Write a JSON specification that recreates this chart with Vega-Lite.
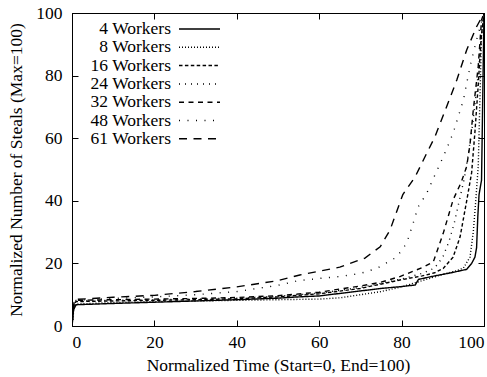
{
  "$schema": "https://vega.github.io/schema/vega-lite/v6.json",
  "width": 412,
  "height": 313,
  "autosize": "none",
  "padding": {"left": 72, "top": 13, "right": 3, "bottom": 51},
  "background": "white",
  "config": {
    "view": {"stroke": "black", "strokeWidth": 1},
    "font": "Liberation Serif",
    "axis": {
      "domainColor": "black", "tickColor": "black", "labelColor": "black", "titleColor": "black",
      "grid": false, "labelFont": "Liberation Serif", "titleFont": "Liberation Serif",
      "labelFontSize": 17.5, "titleFontSize": 17.5, "titleFontWeight": "normal", "tickSize": -6, "tickWidth": 1
    },
    "legend": {
      "labelFont": "Liberation Serif", "labelFontSize": 17.5, "labelColor": "black"
    }
  },
  "data": {
    "values": [
      {"s": "4 Workers", "t": 0, "v": 0}, {"s": "4 Workers", "t": 0.3, "v": 5}, {"s": "4 Workers", "t": 1, "v": 6.8}, {"s": "4 Workers", "t": 10, "v": 7.2}, {"s": "4 Workers", "t": 20, "v": 7.6}, {"s": "4 Workers", "t": 30, "v": 8}, {"s": "4 Workers", "t": 40, "v": 8.4}, {"s": "4 Workers", "t": 50, "v": 8.9}, {"s": "4 Workers", "t": 55, "v": 9.3}, {"s": "4 Workers", "t": 60, "v": 9.6}, {"s": "4 Workers", "t": 65, "v": 10.4}, {"s": "4 Workers", "t": 70, "v": 11.2}, {"s": "4 Workers", "t": 75, "v": 12}, {"s": "4 Workers", "t": 80, "v": 12.6}, {"s": "4 Workers", "t": 83.3, "v": 13.1}, {"s": "4 Workers", "t": 84.1, "v": 14.9}, {"s": "4 Workers", "t": 88, "v": 16}, {"s": "4 Workers", "t": 92, "v": 17}, {"s": "4 Workers", "t": 95.8, "v": 18.1}, {"s": "4 Workers", "t": 97, "v": 20}, {"s": "4 Workers", "t": 97.8, "v": 22}, {"s": "4 Workers", "t": 98.2, "v": 25}, {"s": "4 Workers", "t": 98.5, "v": 35}, {"s": "4 Workers", "t": 98.8, "v": 42}, {"s": "4 Workers", "t": 99.4, "v": 46.6}, {"s": "4 Workers", "t": 100, "v": 100},
      {"s": "8 Workers", "t": 0, "v": 0}, {"s": "8 Workers", "t": 0.5, "v": 6}, {"s": "8 Workers", "t": 1, "v": 7}, {"s": "8 Workers", "t": 10, "v": 7.5}, {"s": "8 Workers", "t": 20, "v": 7.8}, {"s": "8 Workers", "t": 30, "v": 8}, {"s": "8 Workers", "t": 40, "v": 8.2}, {"s": "8 Workers", "t": 50, "v": 8.4}, {"s": "8 Workers", "t": 60, "v": 8.6}, {"s": "8 Workers", "t": 65, "v": 9}, {"s": "8 Workers", "t": 70, "v": 10}, {"s": "8 Workers", "t": 75, "v": 11}, {"s": "8 Workers", "t": 80, "v": 12.5}, {"s": "8 Workers", "t": 85, "v": 14.5}, {"s": "8 Workers", "t": 90, "v": 16.5}, {"s": "8 Workers", "t": 93, "v": 17.5}, {"s": "8 Workers", "t": 95, "v": 18.5}, {"s": "8 Workers", "t": 96.6, "v": 22}, {"s": "8 Workers", "t": 97.4, "v": 30}, {"s": "8 Workers", "t": 98, "v": 40}, {"s": "8 Workers", "t": 98.6, "v": 51}, {"s": "8 Workers", "t": 99, "v": 72}, {"s": "8 Workers", "t": 99.4, "v": 93}, {"s": "8 Workers", "t": 100, "v": 100},
      {"s": "16 Workers", "t": 0, "v": 0}, {"s": "16 Workers", "t": 0.5, "v": 7}, {"s": "16 Workers", "t": 1, "v": 7.8}, {"s": "16 Workers", "t": 10, "v": 8}, {"s": "16 Workers", "t": 20, "v": 8.2}, {"s": "16 Workers", "t": 30, "v": 8.4}, {"s": "16 Workers", "t": 40, "v": 8.7}, {"s": "16 Workers", "t": 50, "v": 9.3}, {"s": "16 Workers", "t": 60, "v": 10.3}, {"s": "16 Workers", "t": 70, "v": 12}, {"s": "16 Workers", "t": 80, "v": 14.8}, {"s": "16 Workers", "t": 85, "v": 16}, {"s": "16 Workers", "t": 88, "v": 17}, {"s": "16 Workers", "t": 90.1, "v": 18.4}, {"s": "16 Workers", "t": 92.5, "v": 22}, {"s": "16 Workers", "t": 94.2, "v": 28.5}, {"s": "16 Workers", "t": 95.8, "v": 40}, {"s": "16 Workers", "t": 97, "v": 49}, {"s": "16 Workers", "t": 97.8, "v": 62}, {"s": "16 Workers", "t": 98.6, "v": 77}, {"s": "16 Workers", "t": 99.3, "v": 92}, {"s": "16 Workers", "t": 100, "v": 100},
      {"s": "24 Workers", "t": 0, "v": 0}, {"s": "24 Workers", "t": 0.5, "v": 7}, {"s": "24 Workers", "t": 1, "v": 8}, {"s": "24 Workers", "t": 10, "v": 8.2}, {"s": "24 Workers", "t": 20, "v": 8.4}, {"s": "24 Workers", "t": 30, "v": 8.6}, {"s": "24 Workers", "t": 40, "v": 8.9}, {"s": "24 Workers", "t": 50, "v": 9.5}, {"s": "24 Workers", "t": 60, "v": 10.5}, {"s": "24 Workers", "t": 70, "v": 12.3}, {"s": "24 Workers", "t": 80, "v": 15}, {"s": "24 Workers", "t": 85, "v": 16.8}, {"s": "24 Workers", "t": 88, "v": 18.5}, {"s": "24 Workers", "t": 90, "v": 22}, {"s": "24 Workers", "t": 91.5, "v": 27}, {"s": "24 Workers", "t": 92.8, "v": 33}, {"s": "24 Workers", "t": 94, "v": 40}, {"s": "24 Workers", "t": 95.2, "v": 47}, {"s": "24 Workers", "t": 96.2, "v": 55}, {"s": "24 Workers", "t": 97.2, "v": 64}, {"s": "24 Workers", "t": 98, "v": 73}, {"s": "24 Workers", "t": 98.7, "v": 82}, {"s": "24 Workers", "t": 99.4, "v": 92}, {"s": "24 Workers", "t": 100, "v": 100},
      {"s": "32 Workers", "t": 0, "v": 0}, {"s": "32 Workers", "t": 0.5, "v": 7.5}, {"s": "32 Workers", "t": 1, "v": 8.2}, {"s": "32 Workers", "t": 10, "v": 8.4}, {"s": "32 Workers", "t": 20, "v": 8.6}, {"s": "32 Workers", "t": 30, "v": 8.8}, {"s": "32 Workers", "t": 40, "v": 9.1}, {"s": "32 Workers", "t": 50, "v": 9.7}, {"s": "32 Workers", "t": 60, "v": 10.8}, {"s": "32 Workers", "t": 70, "v": 12.8}, {"s": "32 Workers", "t": 75, "v": 14}, {"s": "32 Workers", "t": 79.6, "v": 15.8}, {"s": "32 Workers", "t": 85.3, "v": 18.8}, {"s": "32 Workers", "t": 87.7, "v": 20.5}, {"s": "32 Workers", "t": 90.1, "v": 29.6}, {"s": "32 Workers", "t": 92.5, "v": 40.3}, {"s": "32 Workers", "t": 94.5, "v": 46}, {"s": "32 Workers", "t": 95.8, "v": 51}, {"s": "32 Workers", "t": 96.6, "v": 58}, {"s": "32 Workers", "t": 97.4, "v": 69}, {"s": "32 Workers", "t": 98.6, "v": 83}, {"s": "32 Workers", "t": 99.4, "v": 97.8}, {"s": "32 Workers", "t": 100, "v": 100},
      {"s": "48 Workers", "t": 0, "v": 0}, {"s": "48 Workers", "t": 0.5, "v": 7}, {"s": "48 Workers", "t": 1, "v": 8.2}, {"s": "48 Workers", "t": 5, "v": 8.5}, {"s": "48 Workers", "t": 10, "v": 8.8}, {"s": "48 Workers", "t": 20, "v": 9.3}, {"s": "48 Workers", "t": 30, "v": 10}, {"s": "48 Workers", "t": 40, "v": 11}, {"s": "48 Workers", "t": 50, "v": 13}, {"s": "48 Workers", "t": 55, "v": 14.5}, {"s": "48 Workers", "t": 60, "v": 15.2}, {"s": "48 Workers", "t": 65, "v": 15.8}, {"s": "48 Workers", "t": 70, "v": 16.8}, {"s": "48 Workers", "t": 74, "v": 18.4}, {"s": "48 Workers", "t": 78.8, "v": 22}, {"s": "48 Workers", "t": 81.2, "v": 26.4}, {"s": "48 Workers", "t": 82.8, "v": 32.8}, {"s": "48 Workers", "t": 84, "v": 38}, {"s": "48 Workers", "t": 86.1, "v": 42.4}, {"s": "48 Workers", "t": 88, "v": 48}, {"s": "48 Workers", "t": 90.1, "v": 54}, {"s": "48 Workers", "t": 92.5, "v": 61.6}, {"s": "48 Workers", "t": 95, "v": 72.2}, {"s": "48 Workers", "t": 96.6, "v": 82.8}, {"s": "48 Workers", "t": 98.2, "v": 91.4}, {"s": "48 Workers", "t": 100, "v": 100},
      {"s": "61 Workers", "t": 0, "v": 0}, {"s": "61 Workers", "t": 0.5, "v": 7.5}, {"s": "61 Workers", "t": 1, "v": 8.5}, {"s": "61 Workers", "t": 5, "v": 8.8}, {"s": "61 Workers", "t": 10, "v": 9.2}, {"s": "61 Workers", "t": 20, "v": 9.8}, {"s": "61 Workers", "t": 30, "v": 11}, {"s": "61 Workers", "t": 40, "v": 12.5}, {"s": "61 Workers", "t": 50, "v": 14.5}, {"s": "61 Workers", "t": 55.3, "v": 16.3}, {"s": "61 Workers", "t": 60, "v": 17.5}, {"s": "61 Workers", "t": 65, "v": 18.8}, {"s": "61 Workers", "t": 71.1, "v": 21.7}, {"s": "61 Workers", "t": 74.8, "v": 25.3}, {"s": "61 Workers", "t": 77.2, "v": 30.7}, {"s": "61 Workers", "t": 80.3, "v": 42}, {"s": "61 Workers", "t": 83.3, "v": 47.7}, {"s": "61 Workers", "t": 86.1, "v": 55.2}, {"s": "61 Workers", "t": 88.1, "v": 60.5}, {"s": "61 Workers", "t": 90.9, "v": 70}, {"s": "61 Workers", "t": 93.4, "v": 78.6}, {"s": "61 Workers", "t": 95.8, "v": 88.2}, {"s": "61 Workers", "t": 98.2, "v": 95.6}, {"s": "61 Workers", "t": 100, "v": 100}
    ]
  },
  "layer": [
    {
      "mark": {"type": "line", "color": "black", "strokeWidth": 1.4, "clip": true},
      "encoding": {
        "x": {"field": "t", "type": "quantitative", "scale": {"domain": [0, 100], "nice": false},
              "axis": {"values": [0, 20, 40, 60, 80, 100], "title": "Normalized Time (Start=0, End=100)", "labelPadding": 13.5, "titlePadding": 5}},
        "y": {"field": "v", "type": "quantitative", "scale": {"domain": [0, 100], "nice": false},
              "axis": {"values": [0, 20, 40, 60, 80, 100], "title": "Normalized Number of Steals (Max=100)", "labelPadding": 16, "titlePadding": 10}},
        "strokeDash": {
          "field": "s", "type": "nominal",
          "sort": ["4 Workers", "8 Workers", "16 Workers", "24 Workers", "32 Workers", "48 Workers", "61 Workers"],
          "scale": {"domain": ["4 Workers", "8 Workers", "16 Workers", "24 Workers", "32 Workers", "48 Workers", "61 Workers"],
                    "range": [[1, 0], [1, 2], [3.5, 2.4], [1, 5], [5, 4.5], [1, 7.5], [8, 6.5]]},
          "legend": {
            "title": null, "orient": "none", "legendX": 13, "legendY": 9, "padding": 0,
            "symbolType": "stroke", "symbolSize": 1681, "symbolStrokeWidth": 1.5, "symbolStrokeColor": "black",
            "labelAlign": "right", "labelOffset": 2.5, "symbolOffset": 93, "clipHeight": 14, "rowPadding": 0.3,
            "labelExpr": "datum.label + '\u00a0\u00a0\u00a0\u00a0\u00a0\u00a0\u00a0\u00a0\u00a0\u00a0\u00a0\u00a0\u200b'"
          }
        }
      }
    },
    {
      "mark": {"type": "point", "opacity": 0},
      "encoding": {
        "x": {"field": "t", "type": "quantitative", "axis": {"orient": "top", "values": [0, 20, 40, 60, 80, 100], "labels": false, "title": null}},
        "y": {"field": "v", "type": "quantitative", "axis": {"orient": "right", "values": [0, 20, 40, 60, 80, 100], "labels": false, "title": null}}
      }
    }
  ],
  "resolve": {"axis": {"x": "independent", "y": "independent"}}
}
